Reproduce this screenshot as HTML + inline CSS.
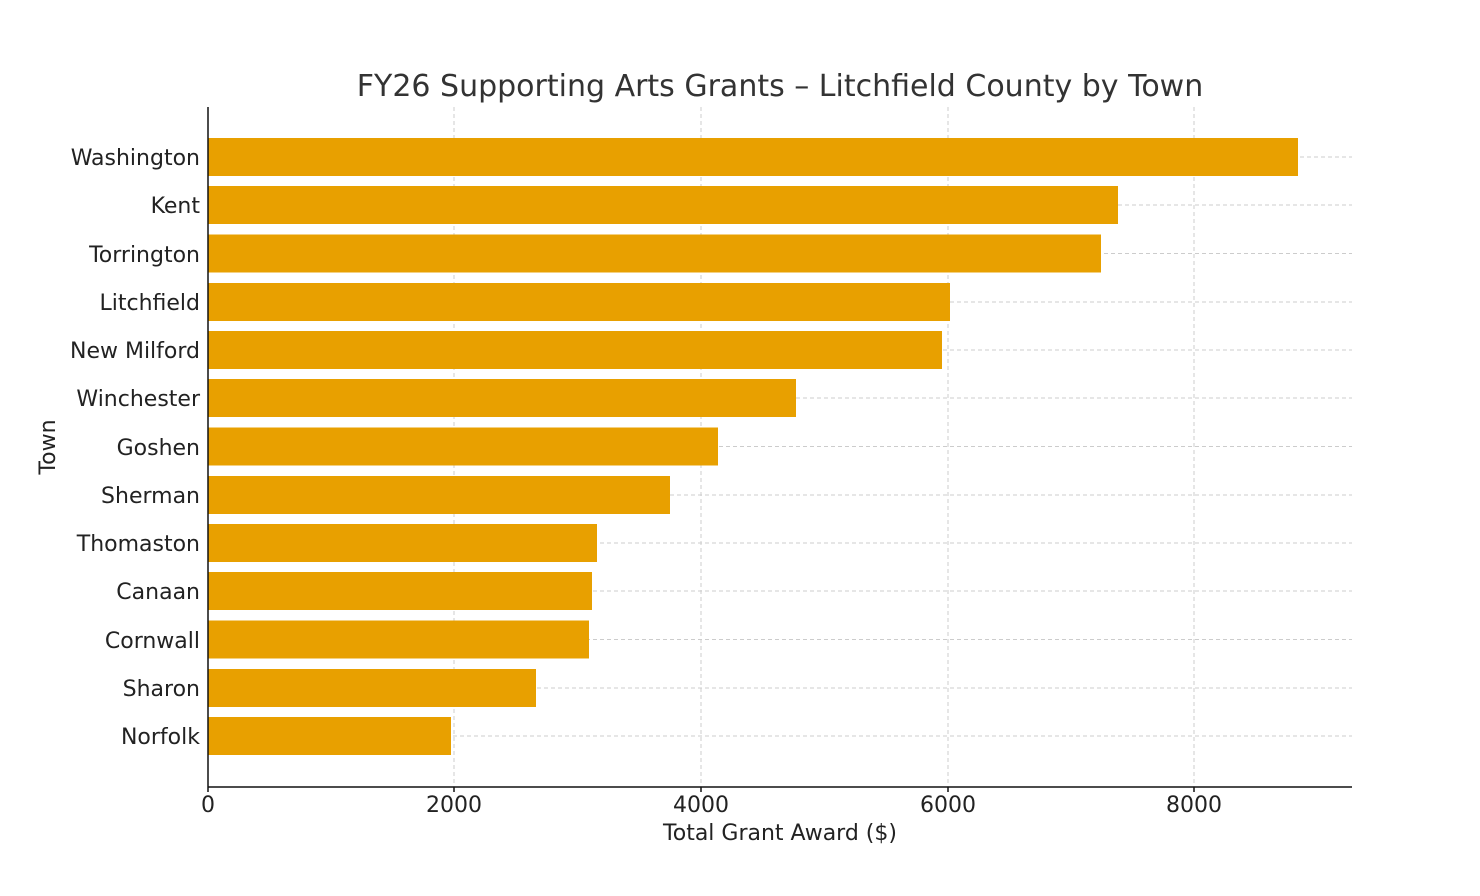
<!DOCTYPE html>
<html><head><meta charset="utf-8"><style>body{margin:0;background:#fff}svg{display:block}text{font-family:"DejaVu Sans","Liberation Sans",sans-serif}</style></head><body>
<svg width="1480" height="896" xmlns="http://www.w3.org/2000/svg">
<text x="780" y="96" font-size="30" fill="#333" text-anchor="middle">FY26 Supporting Arts Grants – Litchfield County by Town</text>
<g stroke="#ccc" stroke-width="1" stroke-dasharray="4,3">
<line x1="454" y1="107" x2="454" y2="787"/><line x1="701" y1="107" x2="701" y2="787"/><line x1="948" y1="107" x2="948" y2="787"/><line x1="1194" y1="107" x2="1194" y2="787"/>
<line x1="208" y1="157" x2="1352" y2="157"/><line x1="208" y1="205" x2="1352" y2="205"/><line x1="208" y1="253.5" x2="1352" y2="253.5"/><line x1="208" y1="302" x2="1352" y2="302"/><line x1="208" y1="350" x2="1352" y2="350"/><line x1="208" y1="398" x2="1352" y2="398"/><line x1="208" y1="446.5" x2="1352" y2="446.5"/><line x1="208" y1="495" x2="1352" y2="495"/><line x1="208" y1="543" x2="1352" y2="543"/><line x1="208" y1="591" x2="1352" y2="591"/><line x1="208" y1="639.5" x2="1352" y2="639.5"/><line x1="208" y1="688" x2="1352" y2="688"/><line x1="208" y1="736" x2="1352" y2="736"/>
</g>
<g fill="#E8A000">
<rect x="208" y="138" width="1090" height="38"/><rect x="208" y="186" width="910" height="38"/><rect x="208" y="234.5" width="893" height="38"/><rect x="208" y="283" width="742" height="38"/><rect x="208" y="331" width="734" height="38"/><rect x="208" y="379" width="588" height="38"/><rect x="208" y="427.5" width="510" height="38"/><rect x="208" y="476" width="462" height="38"/><rect x="208" y="524" width="389" height="38"/><rect x="208" y="572" width="384" height="38"/><rect x="208" y="620.5" width="381" height="38"/><rect x="208" y="669" width="328" height="38"/><rect x="208" y="717" width="243" height="38"/>
</g>
<g stroke="#111" stroke-width="1.5"><line x1="208" y1="107" x2="208" y2="787"/><line x1="208" y1="787" x2="1352" y2="787"/>
<line x1="208" y1="787" x2="208" y2="792"/><line x1="454" y1="787" x2="454" y2="792"/><line x1="701" y1="787" x2="701" y2="792"/><line x1="948" y1="787" x2="948" y2="792"/><line x1="1194" y1="787" x2="1194" y2="792"/></g>
<g font-size="22" fill="#222" text-anchor="end">
<text x="200" y="165">Washington</text><text x="200" y="213">Kent</text><text x="200" y="262">Torrington</text><text x="200" y="310">Litchfield</text><text x="200" y="358">New Milford</text><text x="200" y="406">Winchester</text><text x="200" y="455">Goshen</text><text x="200" y="503">Sherman</text><text x="200" y="551">Thomaston</text><text x="200" y="599">Canaan</text><text x="200" y="648">Cornwall</text><text x="200" y="696">Sharon</text><text x="200" y="744">Norfolk</text>
</g>
<g font-size="22" fill="#222" text-anchor="middle">
<text x="208" y="812">0</text><text x="454" y="812">2000</text><text x="701" y="812">4000</text><text x="948" y="812">6000</text><text x="1194" y="812">8000</text>
<text x="780" y="840">Total Grant Award ($)</text>
<text transform="translate(55,447) rotate(-90)">Town</text>
</g>
</svg>
</body></html>
